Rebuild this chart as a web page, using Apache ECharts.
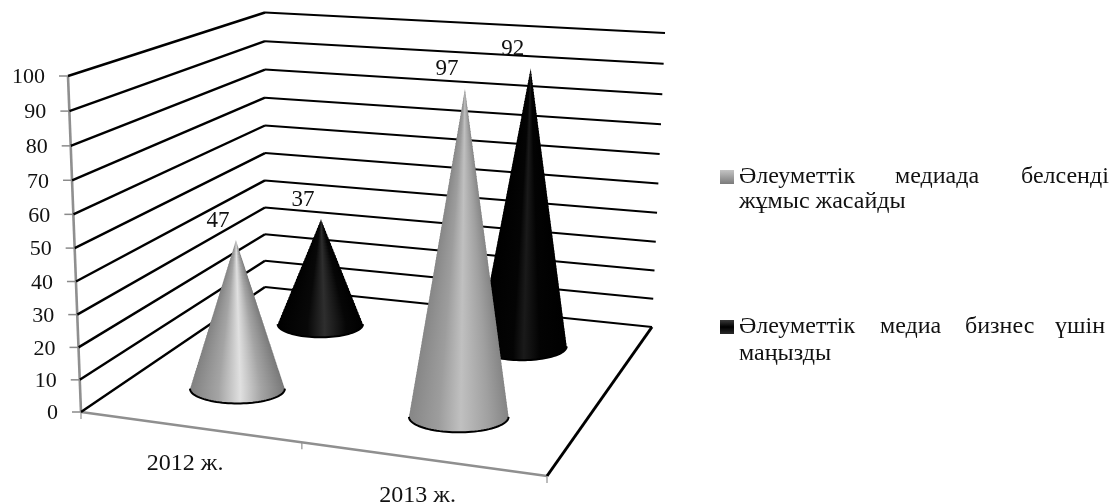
<!DOCTYPE html>
<html>
<head>
<meta charset="utf-8">
<style>html,body{margin:0;padding:0;background:#fff}#chart{width:1113px;height:502px}</style>
<script src="https://cdn.jsdelivr.net/npm/echarts@6/dist/echarts.min.js"></script>
</head>
<body>
<div id="chart"></div>
<script>
// Chart data
var categories = ['2012 ж.', '2013 ж.'];
var activeValues = [47, 97];
var importantValues = [37, 92];
var yTicks = [0, 10, 20, 30, 40, 50, 60, 70, 80, 90, 100];
var activeName = 'Әлеуметтік медиада белсенді жұмыс жасайды';
var importantName = 'Әлеуметтік медиа бизнес үшін маңызды';

var FAMILY = '"Liberation Serif", "Times New Roman", serif';

// Corners of the 3D box in screen space: front-left, front-right, back-right, back-left
var floorQuad = [[81, 412], [547, 476], [652, 327], [265, 287]];
var ceilQuad = [[68, 76], [556, 108], [665, 33], [265, 12.5]];
var VALUE_CURVE = 1.05;     // foreshortening of the vertical axis
var BASE_RADIUS = 49;       // cone radius at unit perspective depth
var ELLIPSE_RATIO = 0.31;
var STRIP_HEIGHT = 3;       // height of one shaded band of a cone

// Unit square to quadrilateral homography
function makeHomography(q) {
  var x0 = q[0][0], y0 = q[0][1], x1 = q[1][0], y1 = q[1][1];
  var x2 = q[2][0], y2 = q[2][1], x3 = q[3][0], y3 = q[3][1];
  var dx1 = x1 - x2, dx2 = x3 - x2, sx = x0 - x1 + x2 - x3;
  var dy1 = y1 - y2, dy2 = y3 - y2, sy = y0 - y1 + y2 - y3;
  var det = dx1 * dy2 - dx2 * dy1;
  var g = (sx * dy2 - dx2 * sy) / det;
  var h = (dx1 * sy - sx * dy1) / det;
  var a = x1 - x0 + g * x1, b = x3 - x0 + h * x3;
  var d = y1 - y0 + g * y1, e = y3 - y0 + h * y3;
  return function (u, w) {
    var den = g * u + h * w + 1;
    return { x: (a * u + b * w + x0) / den, y: (d * u + e * w + y0) / den, den: den };
  };
}
var floorMap = makeHomography(floorQuad);
var ceilMap = makeHomography(ceilQuad);

// u: along the category axis, w: depth, s: fraction of the value axis
function project(u, w, s) {
  var f = floorMap(u, w), c = ceilMap(u, w);
  var t = s <= 0 ? 0 : s / (s + (1 - s) * VALUE_CURVE);
  return [f.x + (c.x - f.x) * t, f.y + (c.y - f.y) * t];
}

// Convert a data point to unit coordinates through the cartesian scales
function toUnit(api, params, cat, val) {
  var p = api.coord([cat, val]);
  var r = params.coordSys;
  return { u: (p[0] - r.x) / r.width, s: (r.y + r.height - p[1]) / r.height };
}

function line(points, stroke, width) {
  return { type: 'polyline', shape: { points: points }, style: { stroke: stroke, lineWidth: width, fill: null }, silent: true };
}

function label(text, x, y, size, align) {
  return { type: 'text', silent: true, style: { text: String(text), x: x, y: y, font: size + 'px ' + FAMILY, fill: '#111', align: align || 'center', verticalAlign: 'middle' } };
}

// Wall gridlines, value-axis ticks and their labels
function renderWallLine(params, api) {
  var v = api.value(1);
  var s = toUnit(api, params, 0, v).s;
  var a = project(0, 0, s), b = project(0, 1, s), c = project(1, 1, s);
  return {
    type: 'group',
    children: [
      line([a, b], '#000', 2.4),
      line([b, c], '#000', 2),
      line([[a[0] - 9, a[1]], a], '#8a8a8a', 1.5),
      label(v, a[0] - 23, a[1] + 1.5, 22, 'right')
    ]
  };
}

// Category labels below the front edge of the floor
function renderCategory(params, api) {
  var i = api.value(0);
  var q = toUnit(api, params, i, 0);
  var p = project(q.u, 0, 0);
  return label(categories[i], p[0] - 3.5, p[1] + 37, 24, 'center');
}

// Axis lines and the open edge of the floor
function renderFrame() {
  var axisGray = '#8f8f8f';
  var kids = [
    line([project(0, 0, 0), project(0, 0, 1)], axisGray, 2.6),
    line([project(0, 0, 0), project(1, 0, 0)], axisGray, 2.6),
    line([project(1, 1, 0), project(1, 0, 0)], '#000', 3)
  ];
  [0, 0.5, 1].forEach(function (u) {
    var p = project(u, 0, 0);
    kids.push(line([p, [p[0], p[1] + 7]], axisGray, 1.2));
  });
  return { type: 'group', children: kids };
}

function gradient(stops) {
  return {
    type: 'linear', x: 0, y: 0, x2: 1, y2: 0,
    colorStops: stops.map(function (c) { return { offset: c[0], color: c[1] }; })
  };
}

var grayStops = [
  [[0, '#808080'], [0.3, '#a4a4a4'], [0.53, '#e0e0e0'], [0.75, '#a4a4a4'], [1, '#777777']],
  [[0, '#868686'], [0.3, '#9d9d9d'], [0.52, '#c0c0c0'], [0.8, '#a0a0a0'], [1, '#848484']]
];
var blackStops = [
  [[0, '#000000'], [0.35, '#080808'], [0.55, '#2e2e2e'], [0.8, '#060606'], [1, '#000000']],
  [[0, '#000000'], [0.4, '#040404'], [0.52, '#1a1a1a'], [0.7, '#030303'], [1, '#000000']]
];

// Builds the renderer for a cone series standing at the given depth.
// The mantle is a stack of thin bands, each shaded across its own width,
// so the highlight narrows towards the tip.
function coneRenderer(depth, stops, rim) {
  return function (params, api) {
    var i = api.value(0), v = api.value(1);
    var q = toUnit(api, params, i, v);
    var base = project(q.u, depth, 0);
    var apex = project(q.u, depth, q.s);
    var rx = BASE_RADIUS / floorMap(q.u, depth).den;
    var ry = rx * ELLIPSE_RATIO;
    var fill = gradient(stops[i]);
    var kids = [];
    var arc = [];
    for (var k = 0; k <= 48; k++) {
      var t = Math.PI * k / 48;
      arc.push([base[0] + rx * Math.cos(t), base[1] + ry * Math.sin(t)]);
    }
    kids.push({ type: 'polygon', silent: true, shape: { points: arc }, style: { fill: fill } });
    var bands = Math.max(1, Math.round((base[1] - apex[1]) / STRIP_HEIGHT));
    for (var b = 0; b < bands; b++) {
      var f0 = b / bands, f1 = (b + 1) / bands;
      var x0 = apex[0] + (base[0] - apex[0]) * f0, x1 = apex[0] + (base[0] - apex[0]) * f1;
      var y0 = apex[1] + (base[1] - apex[1]) * f0, y1 = apex[1] + (base[1] - apex[1]) * f1;
      kids.push({
        type: 'polygon', silent: true,
        shape: { points: [[x0 - rx * f0, y0], [x0 + rx * f0, y0], [x1 + rx * f1, y1 + 1], [x1 - rx * f1, y1 + 1]] },
        style: { fill: fill }
      });
    }
    kids.push(line(arc, rim, 2));
    kids.push(label(v, apex[0] - 18, apex[1] - 19.5, 23, 'center'));
    return { type: 'group', children: kids };
  };
}

function coneData(values) {
  return values.map(function (v, i) { return [i, v]; });
}

function word(width, lineHeight) {
  return { fontSize: 24, fontFamily: FAMILY, color: '#111', align: 'left', verticalAlign: 'middle', width: width, lineHeight: lineHeight };
}

var option = {
  animation: false,
  backgroundColor: '#fff',
  grid: { left: 0, right: 0, top: 0, bottom: 0, containLabel: false },
  xAxis: { type: 'category', data: categories, show: false, boundaryGap: true },
  yAxis: { type: 'value', min: 0, max: 100, interval: 10, show: false, splitLine: { show: false } },
  legend: [
    {
      left: 720, top: 140, padding: 0, orient: 'vertical', selectedMode: false,
      itemWidth: 14, itemHeight: 14,
      data: [{ name: activeName, icon: 'rect', itemStyle: { color: { type: 'linear', x: 0, y: 0, x2: 0, y2: 1, colorStops: [{ offset: 0, color: '#c4c4c4' }, { offset: 1, color: '#7a7a7a' }] } } }],
      formatter: function () {
        return '{blank| }\n{a|Әлеуметтік}{b|медиада}{c|белсенді}\n{d|жұмыс жасайды}';
      },
      textStyle: { rich: { blank: word(10, 25), a: word(156, 25), b: word(126, 25), c: word(88, 25), d: word(370, 25) } }
    },
    {
      left: 720, top: 288, padding: 0, orient: 'vertical', selectedMode: false,
      itemWidth: 14, itemHeight: 14,
      data: [{ name: importantName, icon: 'rect', itemStyle: { color: { type: 'linear', x: 0, y: 0, x2: 0, y2: 1, colorStops: [{ offset: 0, color: '#3a3a3a' }, { offset: 0.5, color: '#000' }, { offset: 1, color: '#2a2a2a' }] } } }],
      formatter: function () {
        return '{blank| }\n{a|Әлеуметтік}{b|медиа}{c|бизнес}{e|үшін}\n{d|маңызды}';
      },
      textStyle: { rich: { blank: word(10, 27), a: word(141, 27), b: word(85, 27), c: word(90, 27), e: word(54, 27), d: word(370, 27) } }
    }
  ],
  series: [
    { type: 'custom', name: 'frame', z: 1, silent: true, clip: false, renderItem: renderFrame, data: [[0, 0]] },
    { type: 'custom', name: 'walls', z: 2, silent: true, clip: false, renderItem: renderWallLine, data: yTicks.map(function (v) { return [0, v]; }) },
    { type: 'custom', name: 'categories', z: 2, silent: true, clip: false, renderItem: renderCategory, data: categories.map(function (c, i) { return [i, 0]; }) },
    { type: 'custom', name: importantName, z: 3, silent: true, clip: false, renderItem: coneRenderer(0.75, blackStops, '#000'), data: coneData(importantValues) },
    { type: 'custom', name: activeName, z: 4, silent: true, clip: false, renderItem: coneRenderer(0.25, grayStops, '#000'), data: coneData(activeValues) }
  ]
};

echarts.init(document.getElementById('chart'), null, { renderer: 'canvas' }).setOption(option);
</script>
</body>
</html>
